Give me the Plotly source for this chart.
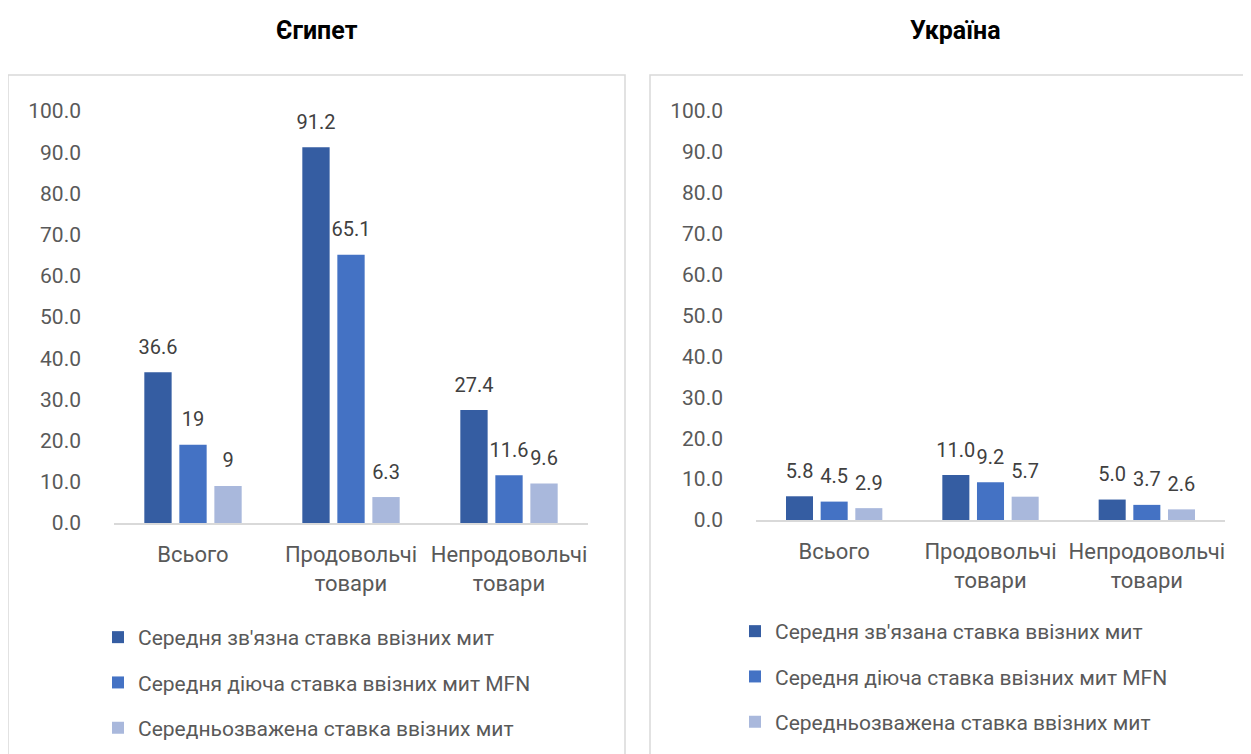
import plotly.graph_objects as go
from plotly.subplots import make_subplots

# categories and values
categories = ["Всього", "Продовольчі<br>товари", "Непродовольчі<br>товари"]

egypt_series = [
    "Середня зв'язна ставка ввізних мит",
    "Середня діюча ставка ввізних мит MFN",
    "Середньозважена ставка ввізних мит",
]
ukraine_series = [
    "Середня зв'язана ставка ввізних мит",
    "Середня діюча ставка ввізних мит MFN",
    "Середньозважена ставка ввізних мит",
]

egypt_bound = [36.6, 91.2, 27.4]
egypt_mfn = [19, 65.1, 11.6]
egypt_weighted = [9, 6.3, 9.6]

ukraine_bound = [5.8, 11.0, 5.0]
ukraine_mfn = [4.5, 9.2, 3.7]
ukraine_weighted = [2.9, 5.7, 2.6]

colors = ["#355DA2", "#4472C4", "#A9B8DC"]
FONT = "Roboto"
W, H = 1251, 780
OFF = 8  # page body margin


def px_x(x):
    return (x - OFF) / W


def px_y(y):
    return 1 - (y - OFF) / H


fig = make_subplots(rows=1, cols=2)


def add_panel(col, names, series, legend_name, fmt):
    for i, (name, vals) in enumerate(zip(names, series)):
        fig.add_trace(go.Bar(
            x=categories, y=vals, name=name,
            marker=dict(color=colors[i], line=dict(width=0)),
            offsetgroup=f"g{i}", legendgroup=f"{legend_name}{i}",
            legend=legend_name, hoverinfo="skip",
        ), row=1, col=col)
        # data labels above the bars
        fig.add_trace(go.Scatter(
            x=categories, y=vals, mode="markers+text",
            text=[fmt(v) for v in vals], texttemplate="%{text}",
            textposition="top center",
            textfont=dict(family=FONT, size=20, color="#404040"),
            marker=dict(size=20, opacity=0),
            offsetgroup=f"g{i}", showlegend=False, hoverinfo="skip",
            cliponaxis=False,
        ), row=1, col=col)


add_panel(1, egypt_series, [egypt_bound, egypt_mfn, egypt_weighted], "legend", str)
add_panel(2, ukraine_series, [ukraine_bound, ukraine_mfn, ukraine_weighted], "legend2",
          lambda v: f"{v:.1f}")

xaxis_style = dict(
    showline=True, linecolor="#D9D9D9", linewidth=2, ticks="",
    showgrid=False, ticklabelstandoff=11, automargin=False,
    tickfont=dict(family=FONT, size=22, color="#595959"),
)
yaxis_style = dict(
    range=[0, 100], dtick=10, tickformat=".1f", showline=False,
    showgrid=False, zeroline=False, ticks="", automargin=False,
    ticklabelstandoff=32,
    tickfont=dict(family=FONT, size=21, color="#595959"),
)

legend_style = dict(
    font=dict(family=FONT, size=21, color="#595959"),
    bgcolor="rgba(0,0,0,0)", tracegroupgap=15,
    xanchor="left", yanchor="top", itemclick=False,
)

fig.update_layout(
    width=W, height=H,
    margin=dict(l=0, r=0, t=0, b=0),
    plot_bgcolor="white", paper_bgcolor="white",
    barmode="group", bargap=0.335, bargroupgap=0.22,
    scattermode="group",
    font=dict(family=FONT, color="#595959"),
    xaxis=dict(domain=[px_x(114), px_x(588)], **xaxis_style),
    xaxis2=dict(domain=[px_x(756), px_x(1225)], **xaxis_style),
    yaxis=dict(domain=[px_y(523), px_y(111)], **yaxis_style),
    yaxis2=dict(domain=[px_y(520), px_y(111)], **yaxis_style),
    legend=dict(x=px_x(98), y=px_y(617), **legend_style),
    legend2=dict(x=px_x(735), y=px_y(611), **legend_style),
    shapes=[
        dict(type="rect", xref="paper", yref="paper",
             x0=px_x(8), x1=px_x(625), y0=-0.05, y1=px_y(75),
             line=dict(color="#D9D9D9", width=1.5), layer="below"),
        dict(type="rect", xref="paper", yref="paper",
             x0=px_x(650), x1=1.05, y0=-0.05, y1=px_y(75),
             line=dict(color="#D9D9D9", width=1.5), layer="below"),
    ],
    annotations=[
        dict(text="<b>Єгипет</b>", x=px_x(317), y=px_y(30), xref="paper", yref="paper",
             xanchor="center", yanchor="middle", showarrow=False,
             font=dict(family=FONT, size=25, color="black")),
        dict(text="<b>Україна</b>", x=px_x(955), y=px_y(30), xref="paper", yref="paper",
             xanchor="center", yanchor="middle", showarrow=False,
             font=dict(family=FONT, size=25, color="black")),
    ],
)

fig.write_html("out.html")
